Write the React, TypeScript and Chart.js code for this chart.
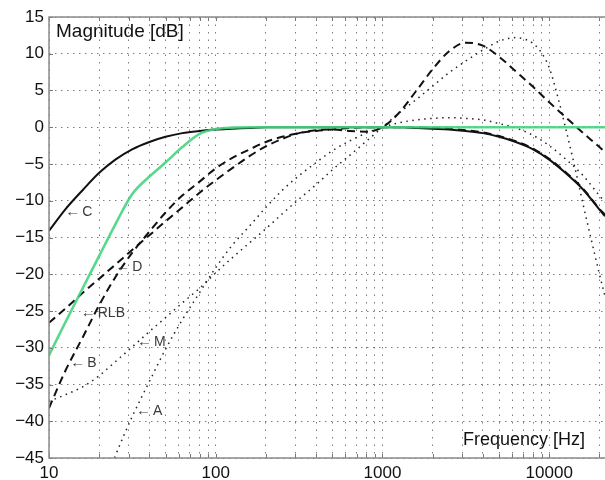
import React, { useEffect, useRef } from 'react';
import { Chart, registerables } from 'chart.js';

Chart.register(...registerables);

// Frequencies (Hz) shared by A, B, C, D and RLB curves
const FREQ = [10, 12.5, 16, 20, 25, 31.5, 40, 50, 63, 80, 100, 125, 160, 200, 250, 315, 400, 500, 630, 800, 1000, 1250, 1600, 2000, 2500, 3150, 4000, 5000, 6300, 8000, 10000, 12500, 16000, 20000, 21600];

const A_DB = [-70.4, -63.4, -56.7, -50.5, -44.7, -39.4, -34.6, -30.2, -26.2, -22.5, -19.1, -16.1, -13.4, -10.9, -8.6, -6.6, -4.8, -3.2, -1.9, -0.8, 0, 0.6, 1.0, 1.2, 1.3, 1.2, 1.0, 0.5, -0.1, -1.1, -2.5, -4.3, -6.6, -9.3, -10.2];
const B_DB = [-38.2, -33.2, -28.5, -24.2, -20.4, -17.1, -14.2, -11.6, -9.3, -7.4, -5.6, -4.2, -3.0, -2.0, -1.3, -0.8, -0.5, -0.3, -0.1, 0, 0, 0, 0, -0.1, -0.2, -0.4, -0.7, -1.2, -1.9, -2.9, -4.3, -6.1, -8.4, -11.1, -11.9];
const C_DB = [-14.1, -11.2, -8.5, -6.2, -4.4, -3.0, -2.0, -1.3, -0.8, -0.5, -0.3, -0.2, -0.1, 0, 0, 0, 0, 0, 0, 0, 0, 0, -0.1, -0.2, -0.3, -0.5, -0.8, -1.3, -2.0, -3.0, -4.4, -6.2, -8.5, -11.2, -12.1];
const D_DB = [-26.6, -24.7, -22.5, -20.6, -18.7, -16.7, -14.7, -12.8, -10.9, -8.9, -7.2, -5.6, -3.9, -2.6, -1.6, -0.8, -0.4, -0.3, -0.5, -0.6, 0, 1.9, 5.0, 7.9, 10.3, 11.5, 11.1, 9.6, 7.6, 5.5, 3.4, 1.4, -0.8, -2.7, -3.4];
const RLB_DB = [-31.0, -26.6, -21.8, -17.5, -13.2, -9.1, -6.7, -4.8, -2.7, -0.9, -0.25, -0.05, 0, 0, 0, 0, 0, 0, 0, 0, 0, 0, 0, 0, 0, 0, 0, 0, 0, 0, 0, 0, 0, 0, 0];

// ITU-R 468 (M) curve has its own frequency list
const M_FREQ = [10, 12.5, 16, 20, 25, 31.5, 40, 50, 63, 80, 100, 125, 160, 200, 250, 315, 400, 500, 630, 800, 1000, 1250, 1600, 2000, 2500, 3150, 4000, 5000, 6300, 7100, 8000, 9000, 10000, 11200, 12500, 14000, 16000, 18000, 20000, 21600];
const M_DB = [-37.3, -36.4, -35.3, -33.8, -31.9, -29.9, -27.8, -25.9, -23.9, -21.9, -19.8, -17.8, -15.7, -13.8, -11.8, -9.8, -7.8, -5.8, -3.9, -1.9, 0, 1.9, 3.8, 5.6, 7.4, 9.0, 10.5, 11.7, 12.2, 12.0, 11.4, 10.1, 8.1, 4.3, 0, -4.7, -10.6, -15.6, -20.0, -23.0];

// Axis ticks / gridlines
const X_GRID = [10, 20, 30, 40, 50, 60, 70, 80, 90, 100, 200, 300, 400, 500, 600, 700, 800, 900, 1000, 2000, 3000, 4000, 5000, 6000, 7000, 8000, 9000, 10000, 20000];
const X_LABELS = [10, 100, 1000, 10000];
const Y_TICKS = [-45, -40, -35, -30, -25, -20, -15, -10, -5, 0, 5, 10, 15];

// Curve annotations: text, anchored at (frequency, dB)
const CURVE_LABELS = [
  { text: 'C', f: 12.5, db: -11.5 },
  { text: 'D', f: 25.0, db: -19.1 },
  { text: 'RLB', f: 15.5, db: -25.3 },
  { text: 'M', f: 33.7, db: -29.2 },
  { text: 'B', f: 13.4, db: -32.1 },
  { text: 'A', f: 33.3, db: -38.6 },
];

const FONT = '"Liberation Sans", Arial, Helvetica, sans-serif';

const toXY = (xs: number[], ys: number[]) => xs.map((x, i) => ({ x, y: ys[i] }));

const decorPlugin = {
  id: 'decor',
  afterDatasetsDraw(chart: any) {
    const { ctx, chartArea } = chart;
    const { left, right, top, bottom } = chartArea;
    const xs = chart.scales.x;
    const ys = chart.scales.y;
    ctx.save();
    // inward tick marks
    ctx.strokeStyle = '#777';
    ctx.lineWidth = 1;
    ctx.beginPath();
    for (const v of X_GRID) {
      const px = Math.round(xs.getPixelForValue(v)) + 0.5;
      ctx.moveTo(px, bottom);
      ctx.lineTo(px, bottom - 4);
      ctx.moveTo(px, top);
      ctx.lineTo(px, top + 4);
    }
    for (const v of Y_TICKS) {
      const py = Math.round(ys.getPixelForValue(v)) + 0.5;
      ctx.moveTo(left, py);
      ctx.lineTo(left + 4, py);
    }
    ctx.stroke();
    // frame
    ctx.strokeStyle = '#8a8a8a';
    ctx.lineWidth = 1.5;
    ctx.beginPath();
    ctx.moveTo(right, top);
    ctx.lineTo(left, top);
    ctx.lineTo(left, bottom);
    ctx.lineTo(right, bottom);
    ctx.stroke();

    // axis titles inside plot
    ctx.fillStyle = '#111';
    ctx.textBaseline = 'middle';
    ctx.textAlign = 'left';
    ctx.font = `19px ${FONT}`;
    ctx.fillText('Magnitude [dB]', left + 7, top + 15);
    ctx.font = `18px ${FONT}`;
    ctx.textAlign = 'right';
    ctx.fillText('Frequency [Hz]', right - 20, bottom - 18);

    // curve labels
    ctx.font = `14px ${FONT}`;
    ctx.fillStyle = '#3a3a3a';
    ctx.textAlign = 'left';
    const arrow = '\u2190';
    const aw = ctx.measureText(arrow).width;
    const target = 15;
    for (const l of CURVE_LABELS) {
      const px = xs.getPixelForValue(l.f);
      const py = ys.getPixelForValue(l.db);
      ctx.save();
      ctx.translate(px, py);
      ctx.scale(target / aw, 1);
      ctx.fillText(arrow, 0, 0);
      ctx.restore();
      ctx.fillText(l.text, px + target + 2, py);
    }
    ctx.restore();
  },
};

export default function App() {
  const ref = useRef<HTMLCanvasElement | null>(null);

  useEffect(() => {
    document.body.style.margin = '0';
    const canvas = ref.current;
    if (!canvas) return;
    Chart.defaults.font.family = FONT;

    const common = {
      pointRadius: 0,
      fill: false,
      cubicInterpolationMode: 'monotone' as const,
    };

    const chart = new Chart(canvas, {
      type: 'line',
      data: {
        datasets: [
          { ...common, label: 'RLB', data: toXY(FREQ, RLB_DB), borderColor: 'rgba(70,212,128,0.9)', borderWidth: 2.6, order: 0 },
          { ...common, label: 'C', data: toXY(FREQ, C_DB), borderColor: '#111', borderWidth: 2, order: 1 },
          { ...common, label: 'B', data: toXY(FREQ, B_DB), borderColor: '#111', borderWidth: 2, borderDash: [8, 5], order: 2 },
          { ...common, label: 'D', data: toXY(FREQ, D_DB), borderColor: '#111', borderWidth: 2, borderDash: [8, 5], order: 3 },
          { ...common, label: 'A', data: toXY(FREQ, A_DB), borderColor: '#222', borderWidth: 1.5, borderDash: [1.5, 4.5], order: 4 },
          { ...common, label: 'M', data: toXY(M_FREQ, M_DB), borderColor: '#222', borderWidth: 1.5, borderDash: [1.5, 4.5], order: 5 },
        ],
      },
      options: {
        responsive: false,
        animation: false,
        events: [],
        layout: { padding: { top: 17, right: 0, left: 0, bottom: 0 } },
        plugins: { legend: { display: false }, tooltip: { enabled: false } },
        scales: {
          x: {
            type: 'logarithmic',
            min: 10,
            max: 21600,
            afterBuildTicks: (s: any) => {
              s.ticks = X_GRID.map((v) => ({ value: v }));
            },
            afterFit: (s: any) => {
              s.height = 22;
            },
            grid: { color: 'rgba(70,70,70,0.7)', lineWidth: 1, drawTicks: false },
            border: { display: false, dash: [1.5, 6] },
            ticks: {
              autoSkip: false,
              maxRotation: 0,
              minRotation: 0,
              padding: 5,
              color: '#111',
              font: { size: 17 },
              callback: (v: any) => (X_LABELS.includes(Number(v)) ? String(v) : ''),
            },
          },
          y: {
            type: 'linear',
            min: -45,
            max: 15,
            afterBuildTicks: (s: any) => {
              s.ticks = Y_TICKS.map((v) => ({ value: v }));
            },
            afterFit: (s: any) => {
              s.width = 49;
            },
            grid: { color: 'rgba(70,70,70,0.7)', lineWidth: 1, drawTicks: false },
            border: { display: false, dash: [1.5, 4.5] },
            ticks: {
              padding: 5,
              color: '#111',
              font: { size: 17 },
              callback: (v: any) => (Number(v) < 0 ? '\u2212' + Math.abs(Number(v)) : String(v)),
            },
          },
        },
      },
      plugins: [decorPlugin],
    });

    return () => chart.destroy();
  }, []);

  return <canvas ref={ref} width={605} height={480} style={{ display: 'block' }} />;
}
